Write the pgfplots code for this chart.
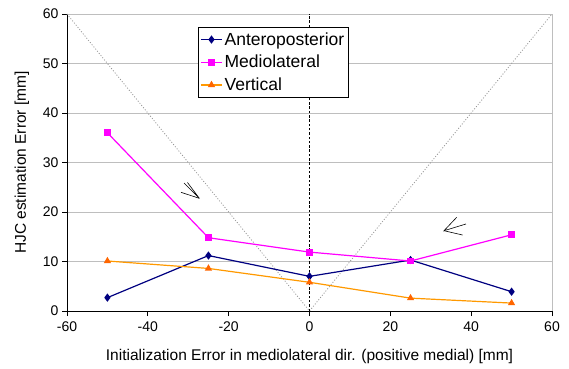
\documentclass[border=0pt]{standalone}
\usepackage{pgfplots}
\pgfplotsset{compat=1.18}
\usepackage{fontspec}
\setmainfont{Liberation Sans}
\definecolor{apcol}{RGB}{0,0,128}
\definecolor{mlcol}{RGB}{255,0,255}
\definecolor{vline}{RGB}{255,153,0}
\definecolor{vmark}{RGB}{255,102,0}
\definecolor{gridgray}{RGB}{190,190,190}
\definecolor{vgray}{RGB}{150,150,150}
\begin{document}
\begin{tikzpicture}
\useasboundingbox (0,0) rectangle (569pt,368pt);
\begin{axis}[
  at={(67pt,57pt)}, anchor=south west,
  scale only axis, width=485pt, height=297pt,
  xmin=-60, xmax=60, ymin=0, ymax=60,
  xtick={-60,-40,-20,0,20,40,60},
  ytick={0,10,20,30,40,50,60},
  axis x line*=bottom, axis y line*=left,
  axis line style={-, black, line width=0.8pt},
  tick align=outside, major tick length=5pt,
  tick style={black, line width=0.8pt},
  ymajorgrids, grid style={gridgray, line width=0.8pt},
  /pgf/number format/assume math mode=true,
  ticklabel style={font=\fontsize{14}{16}\selectfont},
  xticklabel style={yshift=-2pt},
  xlabel={Initialization Error in mediolateral dir. (positive medial) [mm]},
  ylabel={HJC estimation Error [mm]},
  label style={font=\fontsize{15.5}{18}\selectfont},
  xlabel style={at={(axis description cs:0.5,-0.152)}, anchor=center},
  ylabel style={at={(axis description cs:-0.093,0.5)}, anchor=center},
  clip=false,
  legend style={at={(rel axis cs:0.270,0.956)}, anchor=north west,
    draw=black, line width=0.8pt, fill=white,
    font=\fontsize{17.5}{20}\selectfont, inner xsep=2pt, inner ysep=3pt,
    row sep=4.5pt, cells={anchor=west}},
  legend image code/.code={
    \draw[mark repeat=2,mark phase=2,#1] plot coordinates {(0cm,0cm) (0.37cm,0cm) (0.74cm,0cm)};},
]
% gray dotted V lines
\addplot[vgray, dash pattern=on 1pt off 1.8pt, line width=0.8pt, forget plot] coordinates {(-60,60) (0,0) (60,60)};
% vertical dashed line at x=0
\addplot[black, dash pattern=on 2.5pt off 1.8pt, line width=0.8pt, forget plot] coordinates {(0,0) (0,60)};
% arrows
\addplot[black, line width=0.6pt, forget plot] coordinates {(-31.05,25.86) (-27.27,22.77) (-30.19,25.96)};
\addplot[black, line width=0.6pt, forget plot] coordinates {(-31.79,23.98) (-27.27,22.77)};
\addplot[black, line width=0.6pt, forget plot] coordinates {(36.42,18.93) (33.28,16.22) (38.72,17.58)};
\addplot[black, line width=0.6pt, forget plot] coordinates {(37.9,15.35) (33.28,16.22)};
% series
\addplot[apcol, line width=1.2pt, mark=diamond*, mark size=3.2pt, mark options={solid, fill=apcol}]
  coordinates {(-50,2.7) (-25,11.2) (0,7.0) (25,10.3) (50,3.9)};
\addlegendentry{Anteroposterior}
\addplot[mlcol, line width=1.2pt, mark=square*, mark size=2.8pt, mark options={solid, fill=mlcol}]
  coordinates {(-50,36.0) (-25,14.8) (0,11.9) (25,10.1) (50,15.4)};
\addlegendentry{Mediolateral}
\addplot[vline, line width=1.2pt, mark=triangle*, mark size=3pt, mark options={solid, draw=vmark, fill=vmark}]
  coordinates {(-50,10.1) (-25,8.6) (0,5.8) (25,2.6) (50,1.6)};
\addlegendentry{Vertical}
% right border
\draw[gridgray, line width=0.8pt] (rel axis cs:1,0) -- (rel axis cs:1,1);
\end{axis}
\end{tikzpicture}
\end{document}
